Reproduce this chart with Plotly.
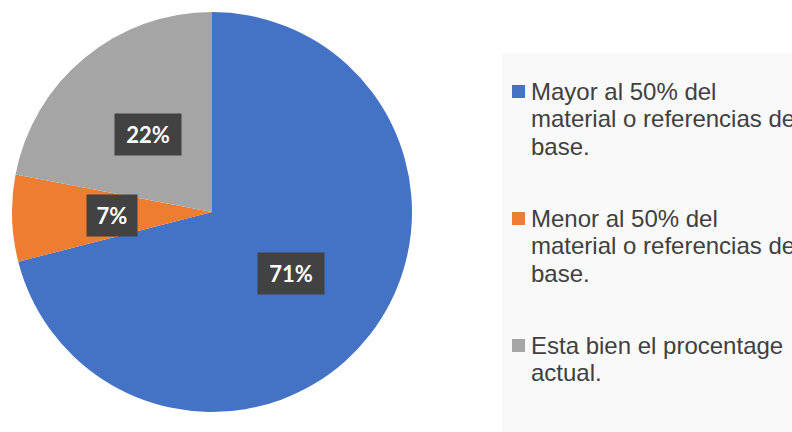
import math
import plotly.graph_objects as go

# ---- data ----
labels = [
    "Mayor al 50% del<br>material o referencias de<br>base.",
    "Menor al 50% del<br>material o referencias de<br>base.",
    "Esta bien el procentage<br>actual.",
]
values = [71, 7, 22]
colors = ["#4472C4", "#ED7D31", "#A5A5A5"]

W, H = 792, 432
# pie placement in pixels (from top-left)
PIE_CX, PIE_CY, PIE_R = 212, 212, 200

fig = go.Figure()
fig.add_trace(go.Pie(
    labels=[l.replace("<br>", " ") for l in labels],
    values=values,
    marker=dict(colors=colors, line=dict(width=0)),
    sort=False,
    direction="clockwise",
    rotation=0,
    textinfo="none",
    hoverinfo="label+percent",
    showlegend=False,
    domain=dict(x=[(PIE_CX - PIE_R) / W, (PIE_CX + PIE_R) / W],
                y=[(H - PIE_CY - PIE_R) / H, (H - PIE_CY + PIE_R) / H]),
))

annotations = []
shapes = []

# data labels at half radius, positioned from the values
total = sum(values)
cum = 0
for v in values:
    mid = (cum + v / 2) / total * 2 * math.pi
    cum += v
    px = PIE_CX + 0.5 * PIE_R * math.sin(mid)
    py = PIE_CY - 0.5 * PIE_R * math.cos(mid)
    txt = f"{round(v / total * 100)}%"
    annotations.append(dict(
        x=px / W, y=1 - py / H, xref="paper", yref="paper",
        text=f"<b>{txt}</b>", showarrow=False,
        font=dict(family="Lato", size=22, color="white"),
        bgcolor="#424242", borderpad=6,
        width=16 * len(txt) + 6, height=29,
        xanchor="center", yanchor="middle",
    ))

# legend background
shapes.append(dict(type="rect", xref="paper", yref="paper",
                   x0=502 / W, x1=1, y0=0, y1=1 - 53 / H,
                   fillcolor="#F9F9F9", line=dict(width=0), layer="below"))

LEG_TOP = 91.5   # first-line centre of first item (px)
ITEM_STEP = 127
LINE_STEP = 27.3
for i, (lab, col) in enumerate(zip(labels, colors)):
    y0 = LEG_TOP + i * ITEM_STEP
    shapes.append(dict(type="rect", xref="paper", yref="paper",
                       x0=512 / W, x1=525 / W,
                       y0=1 - (y0 + 6.5) / H, y1=1 - (y0 - 6.5) / H,
                       fillcolor=col, line=dict(width=0)))
    for j, line in enumerate(lab.split("<br>")):
        yl = y0 + j * LINE_STEP
        annotations.append(dict(
            x=529 / W, y=1 - yl / H, xref="paper", yref="paper",
            text=line, showarrow=False, xanchor="left", yanchor="middle",
            font=dict(family="Liberation Sans", size=24, color="#404040"),
        ))

fig.update_layout(
    width=W, height=H,
    margin=dict(l=0, r=0, t=0, b=0),
    paper_bgcolor="white", plot_bgcolor="white",
    annotations=annotations, shapes=shapes,
    showlegend=False,
)

fig.write_html("out.html")
